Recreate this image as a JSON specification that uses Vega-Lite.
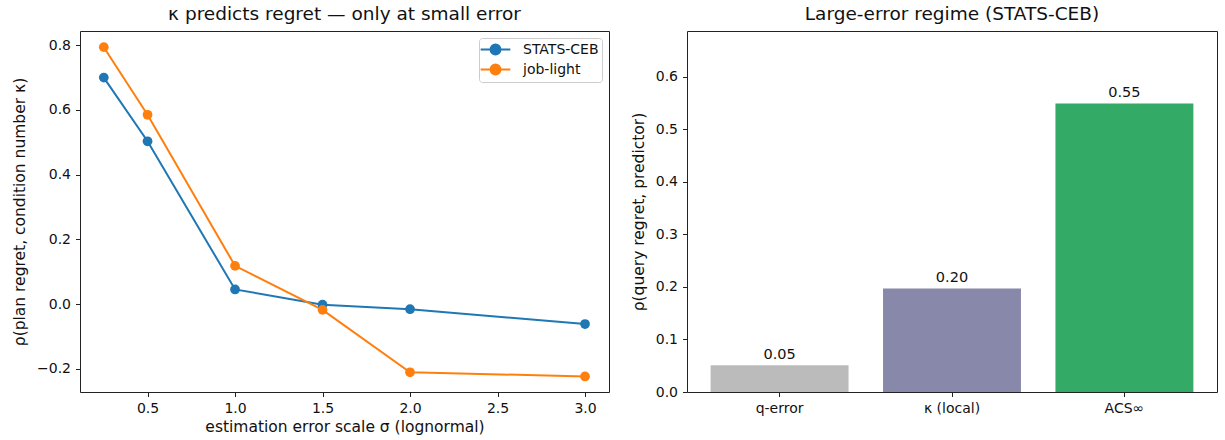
{
  "$schema": "https://vega.github.io/schema/vega-lite/v6.json",
  "background": "white",
  "padding": {"left": 12, "top": 4, "right": 0, "bottom": 0},
  "datasets": {
    "lines": [
      {"sigma": 0.25, "rho": 0.700, "dataset": "STATS-CEB"},
      {"sigma": 0.5, "rho": 0.503, "dataset": "STATS-CEB"},
      {"sigma": 1.0, "rho": 0.045, "dataset": "STATS-CEB"},
      {"sigma": 1.5, "rho": -0.002, "dataset": "STATS-CEB"},
      {"sigma": 2.0, "rho": -0.016, "dataset": "STATS-CEB"},
      {"sigma": 3.0, "rho": -0.062, "dataset": "STATS-CEB"},
      {"sigma": 0.25, "rho": 0.794, "dataset": "job-light"},
      {"sigma": 0.5, "rho": 0.585, "dataset": "job-light"},
      {"sigma": 1.0, "rho": 0.118, "dataset": "job-light"},
      {"sigma": 1.5, "rho": -0.018, "dataset": "job-light"},
      {"sigma": 2.0, "rho": -0.211, "dataset": "job-light"},
      {"sigma": 3.0, "rho": -0.224, "dataset": "job-light"}
    ],
    "bars": [
      {"predictor": "q-error", "rho": 0.051, "label": "0.05"},
      {"predictor": "κ (local)", "rho": 0.197, "label": "0.20"},
      {"predictor": "ACS∞", "rho": 0.549, "label": "0.55"}
    ]
  },
  "config": {
    "font": "DejaVu Sans",
    "view": {"stroke": "#222", "strokeWidth": 1},
    "axis": {
      "grid": false,
      "domain": false,
      "labelFont": "DejaVu Sans",
      "titleFont": "DejaVu Sans",
      "labelFontSize": 14,
      "titleFontSize": 15.5,
      "titleFontWeight": "normal",
      "labelColor": "#111",
      "titleColor": "#111",
      "tickColor": "#222",
      "tickSize": 4.5,
      "labelPadding": 5
    },
    "axisY": {"titlePadding": 9},
    "axisX": {"titlePadding": 4},
    "title": {"font": "DejaVu Sans", "fontSize": 18.5, "fontWeight": "normal", "color": "#111", "offset": 8}
  },
  "resolve": {"scale": {"color": "independent"}, "legend": {"color": "independent"}},
  "spacing": 20,
  "hconcat": [
    {
      "width": 529,
      "height": 361,
      "title": "κ predicts regret — only at small error",
      "layer": [
        {
          "mark": {"type": "rule", "color": "#888", "strokeWidth": 0.8, "strokeDash": [1.5, 2]},
          "encoding": {"y": {"datum": 0}}
        },
        {
          "data": {"name": "lines"},
          "mark": {"type": "line", "strokeWidth": 2, "point": {"filled": true, "size": 95, "opacity": 1}},
          "encoding": {
            "x": {
              "field": "sigma", "type": "quantitative",
              "scale": {"domain": [0.114, 3.137], "nice": false, "zero": false},
              "axis": {"values": [0.5, 1.0, 1.5, 2.0, 2.5, 3.0], "format": ".1f", "title": "estimation error scale σ (lognormal)"}
            },
            "y": {
              "field": "rho", "type": "quantitative",
              "scale": {"domain": [-0.272, 0.844], "nice": false, "zero": false},
              "axis": {"values": [-0.2, 0.0, 0.2, 0.4, 0.6, 0.8], "format": ".1f", "title": "ρ(plan regret, condition number κ)"}
            },
            "color": {
              "field": "dataset", "type": "nominal",
              "scale": {"domain": ["STATS-CEB", "job-light"], "range": ["#1f77b4", "#ff7f0e"]},
              "legend": {
                "title": null,
                "orient": "top-right",
                "offset": 7,
                "labelFontSize": 14,
                "labelColor": "#111",
                "symbolType": "M-2.1,0H2.1M0.7,0A0.7,0.7 0 1,1 -0.7,0A0.7,0.7 0 1,1 0.7,0Z",
                "symbolSize": 200,
                "symbolStrokeWidth": 2,
                "symbolOffset": 5,
                "strokeColor": "#cccccc",
                "fillColor": "rgba(255,255,255,0.85)",
                "padding": 3,
                "cornerRadius": 3,
                "rowPadding": 1,
                "labelOffset": 19,
                "encode": {"symbols": {"update": {"fill": {"scale": "color", "field": "value"}}}}
              }
            }
          }
        }
      ]
    },
    {
      "width": 530,
      "height": 361,
      "title": "Large-error regime (STATS-CEB)",
      "data": {"name": "bars"},
      "encoding": {
        "x": {
          "field": "predictor", "type": "nominal", "sort": null,
          "scale": {"paddingInner": 0.2, "paddingOuter": 0.137},
          "axis": {"title": null, "labelAngle": 0}
        },
        "y": {
          "field": "rho", "type": "quantitative",
          "scale": {"domain": [0, 0.6867], "nice": false},
          "axis": {"values": [0, 0.1, 0.2, 0.3, 0.4, 0.5, 0.6], "format": ".1f", "title": "ρ(query regret, predictor)"}
        }
      },
      "layer": [
        {
          "mark": {"type": "bar"},
          "encoding": {
            "color": {
              "field": "predictor", "type": "nominal",
              "scale": {"domain": ["q-error", "κ (local)", "ACS∞"], "range": ["#bbbbbb", "#8888aa", "#33aa66"]},
              "legend": null
            }
          }
        },
        {
          "mark": {"type": "text", "baseline": "bottom", "dy": -3, "fontSize": 14.5, "color": "#111"},
          "encoding": {"text": {"field": "label"}}
        }
      ]
    }
  ]
}
